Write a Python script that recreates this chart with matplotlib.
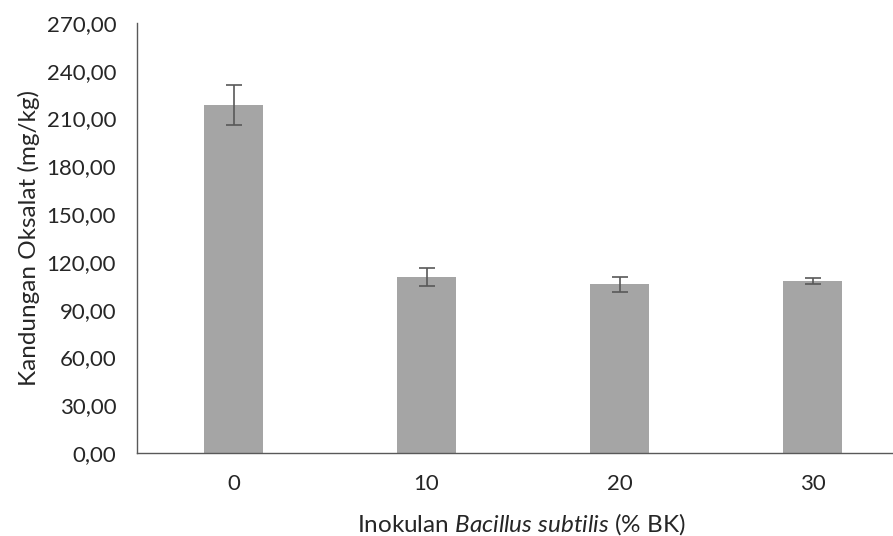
import matplotlib
matplotlib.use('Agg')
import matplotlib.pyplot as plt
from matplotlib.ticker import FuncFormatter

# Data
categories = ['0', '10', '20', '30']
oxalate = [218.7, 110.4, 105.9, 108.1]
errors = [12.6, 5.6, 4.9, 2.0]
yticks = [0, 30, 60, 90, 120, 150, 180, 210, 240, 270]

plt.rcParams['font.family'] = ['Lato', 'DejaVu Sans']
plt.rcParams['mathtext.fontset'] = 'custom'
plt.rcParams['mathtext.rm'] = 'Lato'
plt.rcParams['mathtext.it'] = 'Lato:italic'

fs = 16
lfs = 17.5

fig = plt.figure(figsize=(8.93, 5.36), dpi=100)
ax = fig.add_axes([137 / 893, 83 / 536, 772 / 893, 430 / 536])

x = range(len(categories))
ax.bar(x, oxalate, width=0.31, color='#a5a5a5', zorder=2)
ax.errorbar(x, oxalate, yerr=errors, fmt='none', ecolor='#595959',
            elinewidth=1.2, capsize=6, capthick=1.2, zorder=3)

ax.set_xlim(-0.5, 3.5)
ax.set_ylim(0, 270)
ax.set_yticks(yticks)
ax.yaxis.set_major_formatter(FuncFormatter(lambda v, p: f'{v:.2f}'.replace('.', ',')))
ax.set_xticks(list(x))
ax.set_xticklabels(categories)

ax.tick_params(axis='both', length=0, labelsize=fs, colors='#262626')
ax.tick_params(axis='y', pad=15)
ax.tick_params(axis='x', pad=15)

for s in ['top', 'right']:
    ax.spines[s].set_visible(False)
for s in ['left', 'bottom']:
    ax.spines[s].set_color('#595959')
    ax.spines[s].set_linewidth(1.0)

ax.set_ylabel('Kandungan Oksalat (mg/kg)', fontsize=lfs, color='#262626')
ax.yaxis.set_label_coords((40 - 137) / 772, (453 - 238) / 430)
ax.set_xlabel(r'Inokulan $\it{Bacillus\ subtilis}$ (% BK)', fontsize=lfs,
              color='#262626')
ax.xaxis.set_label_coords((521 - 137) / 772, -58 / 430)

plt.savefig('out.png', dpi=100)
